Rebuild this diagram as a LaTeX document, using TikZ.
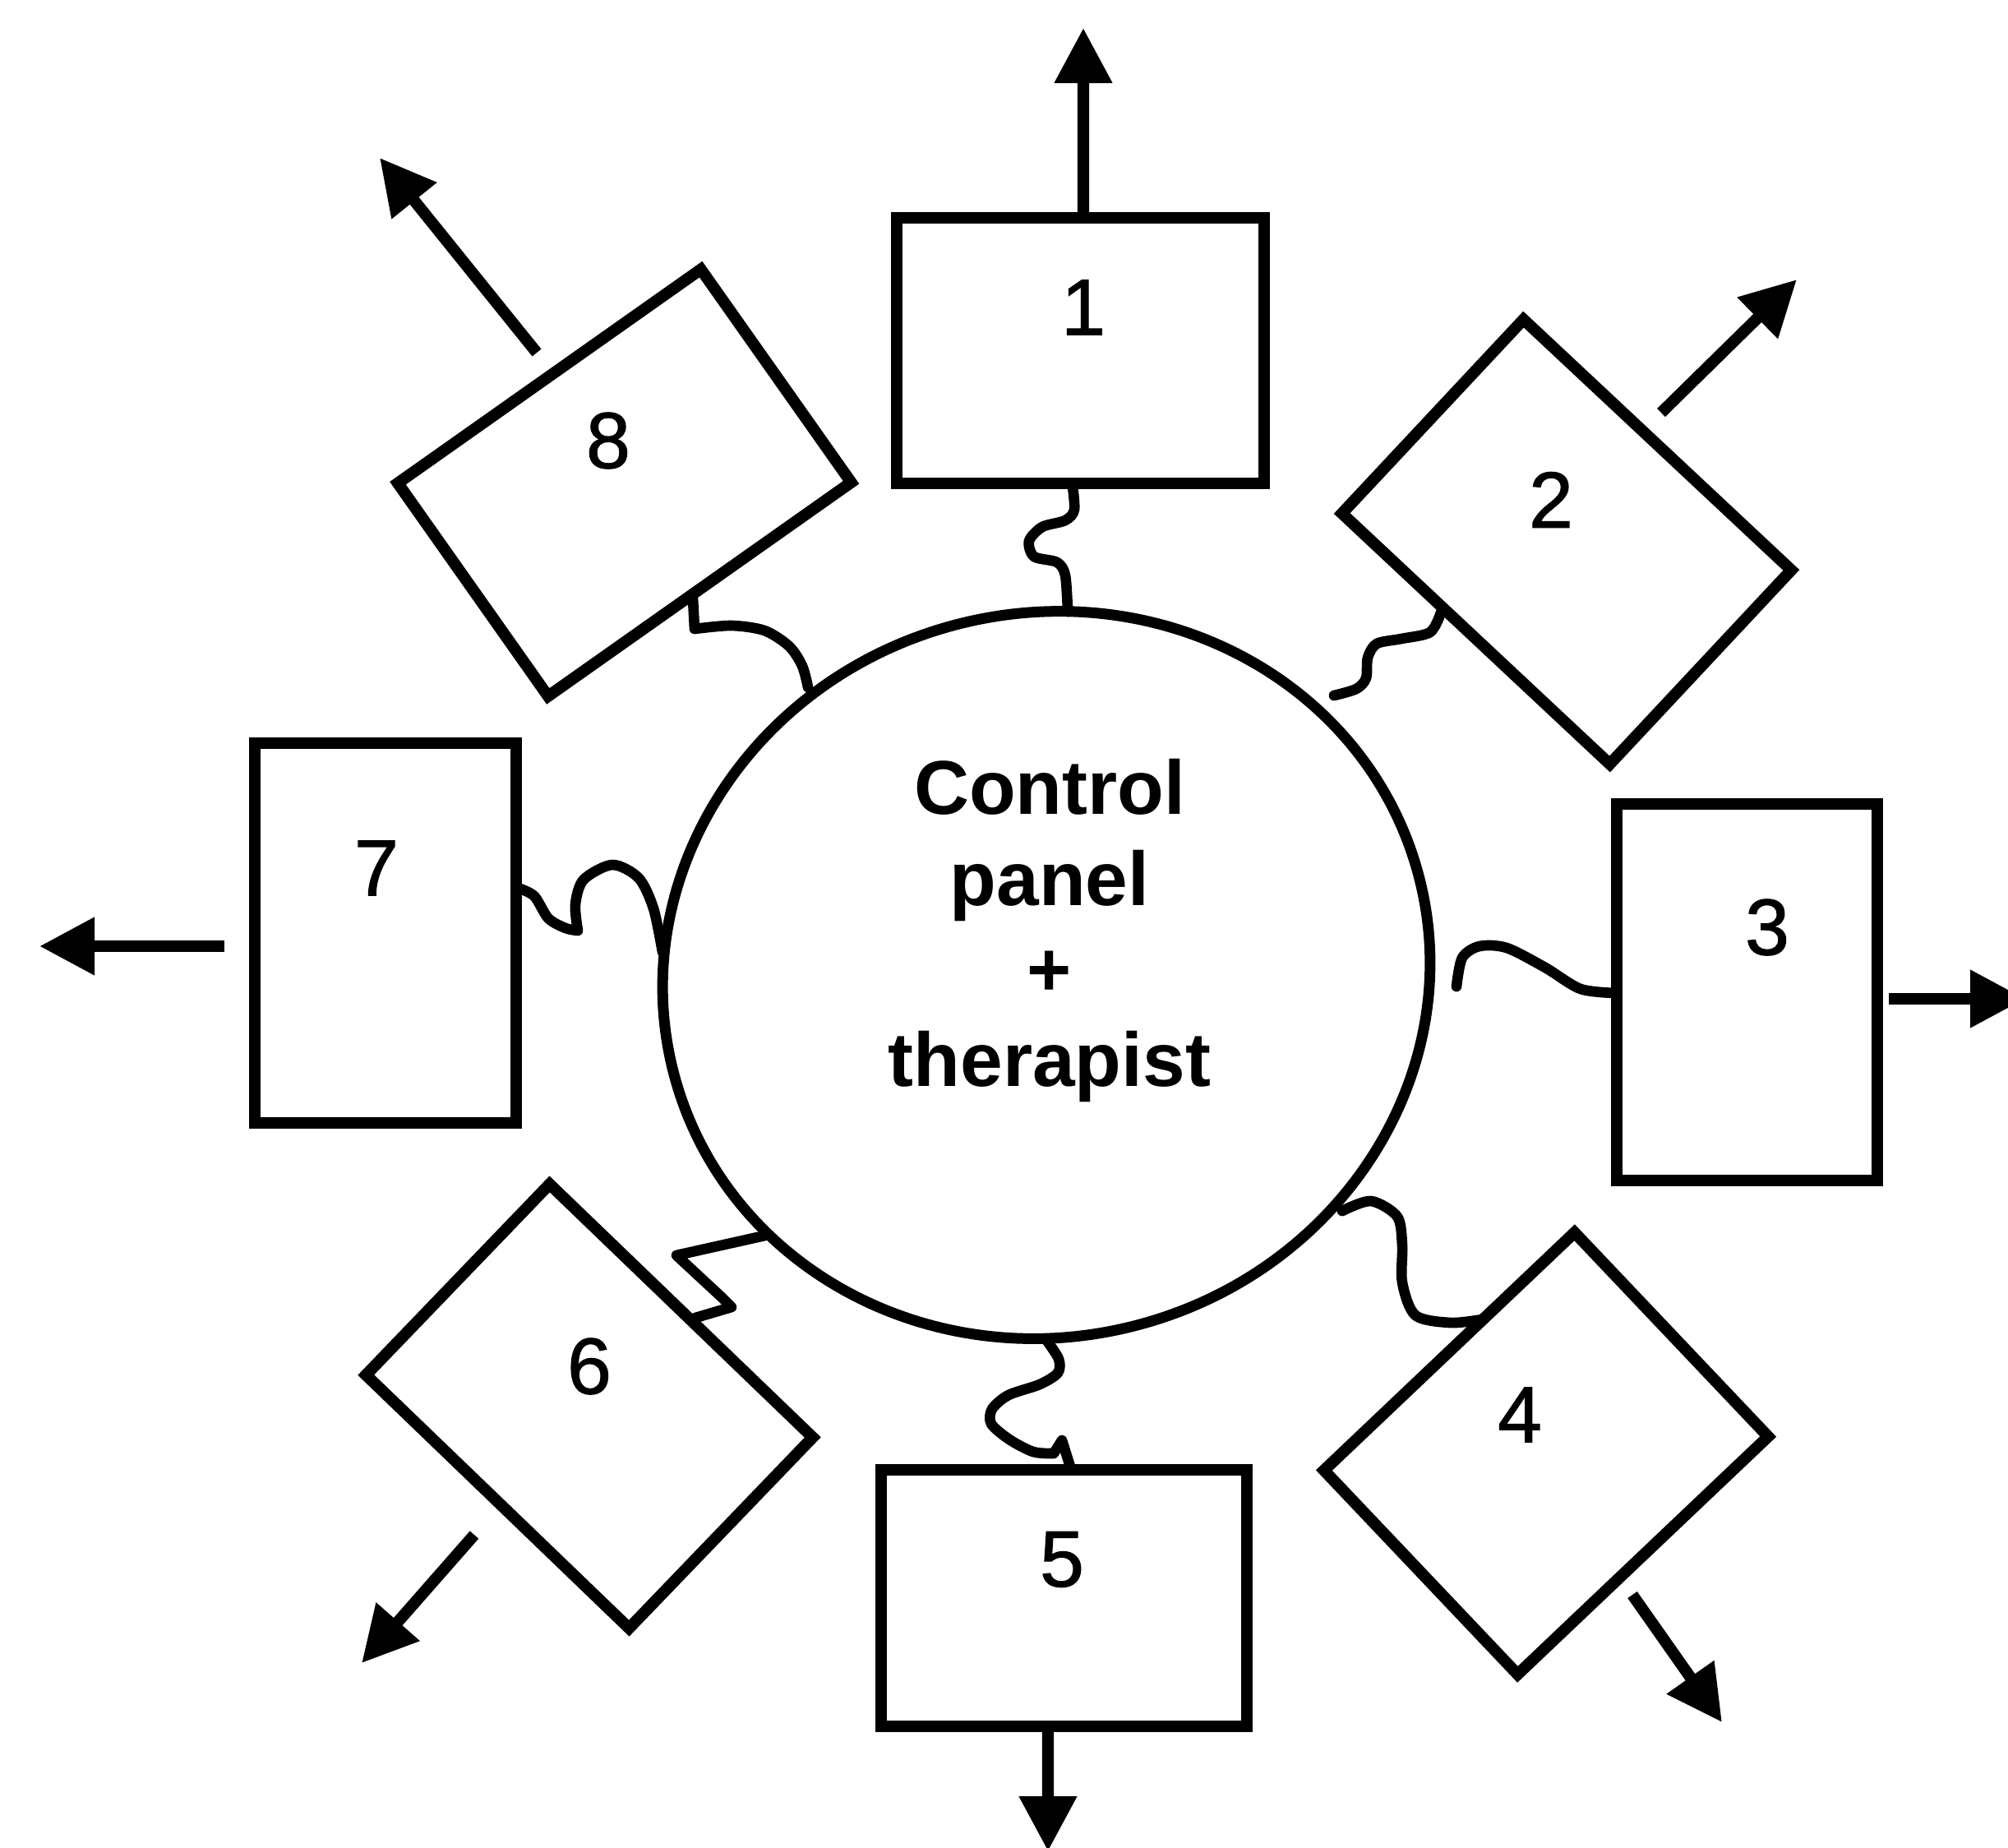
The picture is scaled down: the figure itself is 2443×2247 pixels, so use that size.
\documentclass[tikz,border=0pt]{standalone}
\usepackage{fontspec}
\setmainfont{Liberation Sans}
\newfontfamily\digitfont[FakeBold=1.2]{Liberation Sans}
\usetikzlibrary{arrows.meta,calc,shapes.geometric}
\tikzset{
  unit/.style={draw=black, line width=4pt, inner sep=0pt, outer sep=0pt, shape=rectangle, line join=miter},
  ringstyle/.style={draw=black, line width=3.7pt, shape=ellipse, inner sep=0pt, outer sep=0pt},
  num/.style={font=\digitfont\fontsize{27.5pt}{27.5pt}\selectfont, inner sep=0pt},
  centertext/.style={font=\fontsize{26.4pt}{31.3pt}\selectfont\bfseries, align=center, inner sep=0pt},
  wire/.style={line width=3.6pt, line cap=round, line join=round},
  outarrow/.style={line width=4pt, -{Triangle[length=6.7mm,width=6.7mm]}},
}
\begin{document}
\begin{tikzpicture}[x=0.01cm,y=-0.01cm]
\useasboundingbox (0,0) rectangle (2443,2247);

% central control panel
\node[ringstyle, rotate=15.9, minimum width=9.372cm, minimum height=8.796cm] (ring) at (1273,1186) {};
\node[centertext] (cp) at (1277,1132) {Control\\panel\\+\\therapist};

% boxes
\node[unit, minimum width=4.47cm, minimum height=3.23cm] (b1) at (1314.5,426.5) {};
\node[unit, minimum width=4.46cm, minimum height=3.23cm, rotate=-43.1] (b2) at (1906,659) {};
\node[unit, minimum width=3.17cm, minimum height=4.58cm] (b3) at (2125.5,1207) {};
\node[unit, minimum width=4.20cm, minimum height=3.42cm, rotate=43.5] (b4) at (1881,1768) {};
\node[unit, minimum width=4.45cm, minimum height=3.12cm] (b5) at (1294.5,1944) {};
\node[unit, minimum width=4.44cm, minimum height=3.22cm, rotate=-43.9] (b6) at (717,1710.5) {};
\node[unit, minimum width=3.17cm, minimum height=4.61cm] (b7) at (469,1135) {};
\node[unit, minimum width=4.51cm, minimum height=3.17cm, rotate=35.2] (b8) at (759.75,587.25) {};

% numbers
\node[num] (t1) at (1318,374) {1};
\node[num] (t2) at (1887,608) {2};
\node[num] (t3) at (2150,1128) {3};
\node[num] (t4) at (1849,1721) {4};
\node[num] (t5) at (1292,1897) {5};
\node[num] (t6) at (717,1662) {6};
\node[num] (t7) at (458,1056) {7};
\node[num] (t8) at (740,536) {8};

% connector end points
\coordinate (c1a) at ([xshift=-0.1cm]b1.south);
\coordinate (c1b) at (1299,744);
\coordinate (c2a) at (1753,745);
\coordinate (c2b) at (1623,846);
\coordinate (c3a) at (1967,1208);
\coordinate (c3b) at (1772,1200);
\coordinate (c4a) at (1633,1473);
\coordinate (c4b) at (1803,1605);
\coordinate (c5a) at (1273,1630);
\coordinate (c5b) at (1302,1784);
\coordinate (c6a) at (935,1502);
\coordinate (c6b) at (846,1603);
\coordinate (c7a) at (630,1080);
\coordinate (c7b) at (806,1158);
\coordinate (c8a) at (843,728);
\coordinate (c8b) at (983,836);

% wavy connectors
\draw[wire] plot[smooth] coordinates {(c1a) (1307,620) (1296,633) (1268,641) (1252,658) (1258,677) (1286,684) (1296,700) (c1b)};
\draw[wire] plot[smooth] coordinates {(c2a) (1740,769) (1705,777) (1675,783) (1664,800) (1662,825) (1650,838) (c2b)};
\draw[wire] plot[smooth] coordinates {(c3a) (1923,1203) (1880,1177) (1833,1153) (1800,1151) (1779,1165) (c3b)};
\draw[wire] plot[smooth] coordinates {(c4a) (1668,1461) (1700,1480) (1706,1515) (1706,1560) (1722,1600) (1765,1609) (c4b)};
\draw[wire] plot[smooth] coordinates {(c5a) (1288,1653) (1287,1670) (1265,1684) (1227,1697) (1207,1714) (1206,1732) (1228,1751) (1257,1766) (1282,1768)} -- (1292,1752) -- (c5b);
\draw[wire] (c6a) -- (823,1527) -- (878,1578) -- (890,1590) -- (c6b);
\draw[wire] plot[smooth] coordinates {(c7a) (650,1090) (667,1117) (688,1129) (703,1132)} -- plot[smooth] coordinates {(703,1132) (700,1100) (710,1070) (745,1052) (777,1068) (795,1105) (c7b)};
\draw[wire] (c8a) -- (845,765) -- plot[smooth] coordinates {(845,765) (890,761) (930,767) (960,786) (976,810) (c8b)};

% outgoing arrows
\coordinate (a1) at (1318,34);
\coordinate (a2s) at (2021,502);
\coordinate (a2) at (2186,340);
\coordinate (a3) at (2464,1215);
\coordinate (a4s) at (1986,1940);
\coordinate (a4) at (2095,2095);
\coordinate (a5) at (1275,2252);
\coordinate (a6s) at (577,1867);
\coordinate (a6) at (440,2023);
\coordinate (a7s) at (273,1151);
\coordinate (a7) at (48,1151);
\coordinate (a8s) at (653,429);
\coordinate (a8) at (462,192);

\draw[outarrow] ([xshift=0.035cm]b1.north) -- (a1);
\draw[outarrow] (a2s) -- (a2);
\draw[outarrow] ([shift={(14,8)}]b3.east) -- (a3);
\draw[outarrow] (a4s) -- (a4);
\draw[outarrow] ([xshift=-0.195cm]b5.south) -- (a5);
\draw[outarrow] (a6s) -- (a6);
\draw[outarrow] (a7s) -- (a7);
\draw[outarrow] (a8s) -- (a8);
\end{tikzpicture}
\end{document}
